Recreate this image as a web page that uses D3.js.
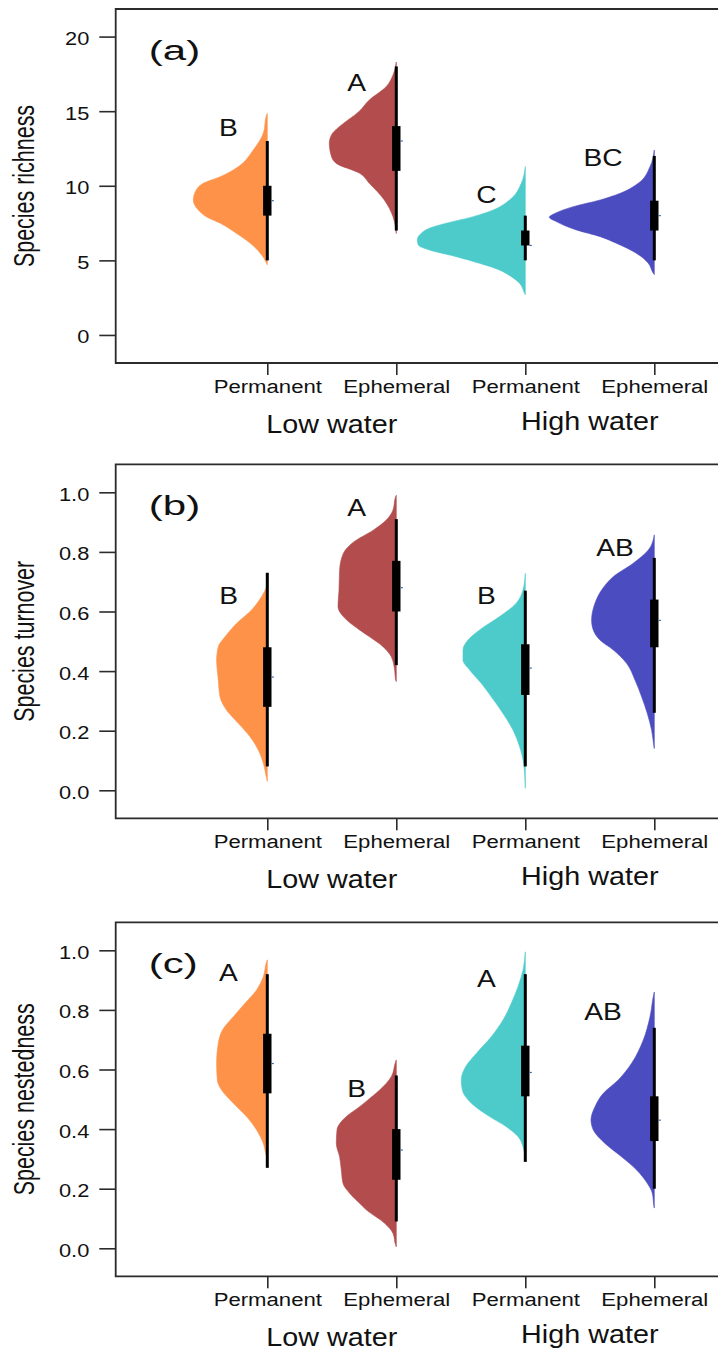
<!DOCTYPE html>
<html>
<head>
<meta charset="utf-8">
<script src="https://cdn.jsdelivr.net/npm/d3@7"></script>
<style>
  html, body { margin: 0; padding: 0; background: #fff; overflow: hidden; }
  svg { display: block; }
</style>
</head>
<body>
<script>
// ---- categories ----
const habitats = ["Permanent", "Ephemeral", "Permanent", "Ephemeral"];
const waterLevels = ["Low water", "High water"];
const waterMembers = [[0, 1], [2, 3]];

// ---- (a) species richness ----
const richnessTicks = [0, 5, 10, 15, 20];
// [lower whisker, Q1, median, Q3, upper whisker]
const richnessStats = [
  [5, 8, 9, 10, 13],
  [7, 11, 13, 14, 18],
  [5, 6, 6, 7, 8],
  [5, 7, 8, 9, 12]
];
// kernel density profiles: [value, density]
const richnessDensity = [
  [[4.7,0],[4.81,0.007],[5.48,0.07],[6.15,0.17],[6.82,0.31],[7.49,0.47],[7.93,0.61],[8.38,0.69],[9.05,0.74],[9.72,0.71],[10.17,0.64],[10.61,0.47],[11.28,0.29],[12.4,0.14],[13.52,0.04],[14.75,0.007],[14.85,0]],
  [[6.8,0],[7.93,0.033],[9.05,0.12],[10.17,0.27],[10.85,0.37],[11.5,0.6],[12.0,0.65],[12.85,0.67],[13.5,0.64],[13.96,0.57],[15.0,0.37],[15.75,0.27],[16.65,0.10],[17.4,0.035],[18.3,0]],
  [[2.7,0],[2.79,0.007],[3.46,0.057],[3.91,0.14],[4.36,0.26],[4.81,0.46],[5.25,0.69],[5.7,0.96],[6.03,1.07],[6.37,1.08],[6.82,1.04],[7.15,0.96],[7.49,0.79],[7.93,0.52],[8.38,0.32],[9.05,0.157],[10.17,0.04],[11.28,0]],
  [[4.05,0],[4.14,0.01],[4.81,0.06],[5.48,0.18],[6.15,0.38],[6.59,0.54],[7.04,0.78],[7.6,0.98],[7.89,1.05],[8.16,0.99],[8.6,0.81],[9.05,0.54],[9.5,0.34],[10.17,0.16],[11.28,0.043],[12.4,0]]
];
const richnessLetters = ["B", "A", "C", "BC"];
const richnessLetterAt = [13.94, 16.96, 9.45, 11.93];

// ---- (b) species turnover ----
const turnoverTicks = [0, 0.2, 0.4, 0.6, 0.8, 1.0];
const turnoverStats = [
  [0.08, 0.28, 0.38, 0.48, 0.73],
  [0.42, 0.60, 0.68, 0.77, 0.91],
  [0.08, 0.32, 0.41, 0.49, 0.67],
  [0.26, 0.48, 0.57, 0.64, 0.78]
];
const turnoverDensity = [
  [[0.03,0],[0.04,0.007],[0.091,0.04],[0.135,0.09],[0.18,0.173],[0.225,0.29],[0.269,0.407],[0.314,0.473],[0.37,0.49],[0.437,0.507],[0.482,0.49],[0.515,0.423],[0.56,0.307],[0.605,0.157],[0.65,0.057],[0.683,0.007],[0.69,0]],
  [[0.365,0],[0.37,0.007],[0.404,0.017],[0.448,0.05],[0.482,0.133],[0.515,0.267],[0.538,0.367],[0.583,0.53],[0.616,0.583],[0.672,0.573],[0.739,0.567],[0.795,0.53],[0.835,0.42],[0.873,0.23],[0.907,0.10],[0.941,0.033],[0.985,0.007],[0.99,0]],
  [[0.007,0],[0.091,0.017],[0.146,0.057],[0.202,0.123],[0.258,0.223],[0.314,0.34],[0.359,0.44],[0.404,0.557],[0.437,0.623],[0.471,0.623],[0.504,0.573],[0.538,0.457],[0.583,0.257],[0.628,0.09],[0.672,0.023],[0.728,0]],
  [[0.14,0],[0.146,0.003],[0.202,0.027],[0.258,0.07],[0.314,0.127],[0.37,0.193],[0.426,0.277],[0.471,0.41],[0.504,0.543],[0.538,0.61],[0.571,0.627],[0.628,0.593],[0.672,0.527],[0.717,0.41],[0.762,0.21],[0.806,0.06],[0.857,0]]
];
const turnoverLetters = ["B", "A", "B", "AB"];
const turnoverLetterAt = [0.655, 0.951, 0.655, 0.816];

// ---- (c) species nestedness ----
const nestednessTicks = [0, 0.2, 0.4, 0.6, 0.8, 1.0];
const nestednessStats = [
  [0.27, 0.52, 0.62, 0.72, 0.92],
  [0.09, 0.23, 0.33, 0.40, 0.58],
  [0.29, 0.51, 0.59, 0.68, 0.92],
  [0.20, 0.36, 0.43, 0.51, 0.74]
];
const nestednessDensity = [
  [[0.3,0],[0.307,0.007],[0.352,0.04],[0.397,0.107],[0.442,0.207],[0.487,0.34],[0.531,0.457],[0.565,0.5],[0.621,0.507],[0.688,0.49],[0.733,0.447],[0.777,0.34],[0.822,0.223],[0.867,0.107],[0.911,0.04],[0.962,0.007],[0.968,0]],
  [[0.005,0],[0.011,0.007],[0.05,0.033],[0.084,0.117],[0.129,0.30],[0.151,0.367],[0.185,0.467],[0.218,0.533],[0.263,0.55],[0.307,0.567],[0.352,0.60],[0.397,0.593],[0.442,0.50],[0.475,0.367],[0.498,0.283],[0.531,0.167],[0.576,0.05],[0.626,0.007],[0.632,0]],
  [[0.3,0],[0.307,0.003],[0.341,0.023],[0.375,0.073],[0.408,0.19],[0.442,0.357],[0.487,0.54],[0.531,0.63],[0.565,0.64],[0.609,0.597],[0.654,0.49],[0.71,0.34],[0.766,0.223],[0.822,0.14],[0.878,0.073],[0.934,0.023],[0.995,0]],
  [[0.135,0],[0.14,0.003],[0.185,0.02],[0.218,0.07],[0.263,0.177],[0.307,0.327],[0.352,0.493],[0.397,0.61],[0.431,0.633],[0.475,0.593],[0.52,0.51],[0.565,0.36],[0.621,0.227],[0.699,0.11],[0.777,0.043],[0.856,0.003],[0.86,0]]
];
const nestednessLetters = ["A", "B", "A", "AB"];
const nestednessLetterAt = [0.927, 0.538, 0.907, 0.796];

// ---- styling ----
const fillColors = ["#FF9249", "#B34C4C", "#4DCBCB", "#4C4CC1"];
const FONT = "'Liberation Sans', Arial, Helvetica, sans-serif";
const INK = "#111";
const FRAME = "#2b2b2b";

// ---- layout ----
const W = 718, H = 1351;
const frameLeft = 115.7, frameRight = 730;
const plotH = 354;

const panels = [
  { top: 9,   domain: [-1.88, 21.85], ticks: richnessTicks,   fmt: d3.format("d"),
    title: "Species richness",   tag: "(a)", stats: richnessStats,   density: richnessDensity,
    letters: richnessLetters,   letterAt: richnessLetterAt,   letterDx: [-39, -39.7, -39, -51.3] },
  { top: 464.3, domain: [-0.094, 1.094], ticks: turnoverTicks,  fmt: d3.format(".1f"),
    title: "Species turnover",   tag: "(b)", stats: turnoverStats,   density: turnoverDensity,
    letters: turnoverLetters,   letterAt: turnoverLetterAt,   letterDx: [-38.6, -39.7, -39, -39.3] },
  { top: 922.3, domain: [-0.094, 1.094], ticks: nestednessTicks, fmt: d3.format(".1f"),
    title: "Species nestedness", tag: "(c)", stats: nestednessStats, density: nestednessDensity,
    letters: nestednessLetters, letterAt: nestednessLetterAt, letterDx: [-39, -39.7, -39, -51.3] }
];

const svg = d3.select("body").append("svg")
  .attr("width", W).attr("height", H)
  .attr("viewBox", `0 0 ${W} ${H}`);

const x = d3.scalePoint().domain(d3.range(habitats.length)).range([267.3, 654.3]);
const halfWidth = d3.scaleLinear().domain([0, 1]).range([0, 100]);

// text with a horizontal stretch, like the device the figure was exported from
function stretchedText(parent, str, px, py, opts) {
  return parent.append("text")
    .attr("transform", `translate(${px},${py})` + (opts.rotate ? ` rotate(${opts.rotate})` : "") + ` scale(${opts.sx},1)`)
    .attr("text-anchor", opts.anchor || "middle")
    .attr("font-family", FONT)
    .attr("font-size", opts.size)
    .attr("fill", INK)
    .text(str);
}

panels.forEach((p) => {
  const g = svg.append("g");
  const bottom = p.top + plotH;
  const y = d3.scaleLinear().domain(p.domain).range([bottom, p.top]);

  // half violins, flat side on the category position
  p.density.forEach((prof, i) => {
    const cx = x(i);
    const pts = prof.slice().sort((a, b) => b[0] - a[0]);
    const area = d3.area()
      .curve(d3.curveMonotoneY)
      .y(d => y(d[0]))
      .x0(() => cx)
      .x1(d => cx - halfWidth(d[1]));
    g.append("path")
      .attr("d", area(pts))
      .attr("fill", fillColors[i])
      .attr("stroke", fillColors[i])
      .attr("stroke-width", 0.6)
      .attr("stroke-linejoin", "round");
  });

  // box plots
  p.stats.forEach((s, i) => {
    const cx = x(i);
    g.append("line")
      .attr("x1", cx).attr("x2", cx)
      .attr("y1", y(s[0])).attr("y2", y(s[4]))
      .attr("stroke", "#000").attr("stroke-width", 3);
    g.append("rect")
      .attr("x", cx - 4.2).attr("width", 8.4)
      .attr("y", y(s[3])).attr("height", y(s[1]) - y(s[3]))
      .attr("fill", "#000");
    g.append("line")
      .attr("x1", cx + 4.2).attr("x2", cx + 6.5)
      .attr("y1", y(s[2])).attr("y2", y(s[2]))
      .attr("stroke", "#3d63a8").attr("stroke-width", 1.2);
  });

  // significance letters
  p.letters.forEach((lab, i) => {
    stretchedText(g, lab, x(i) + p.letterDx[i], y(p.letterAt[i]) + 8.8, { size: 24.5, sx: 1.15 });
  });

  // frame: top, left and bottom sides (right side lies past the page edge)
  g.append("path")
    .attr("d", `M${frameRight},${p.top}H${frameLeft}V${bottom}H${frameRight}`)
    .attr("fill", "none").attr("stroke", FRAME).attr("stroke-width", 1.8);

  // y axis
  const ga = g.append("g")
    .attr("transform", `translate(${frameLeft},0)`)
    .call(d3.axisLeft(y).tickValues(p.ticks).tickFormat(p.fmt).tickSize(16.4).tickPadding(10));
  ga.select(".domain").remove();
  ga.selectAll(".tick line").attr("stroke", FRAME).attr("stroke-width", 1.6);
  ga.selectAll(".tick text")
    .attr("x", 0).attr("dy", null)
    .attr("transform", "translate(-26.4,8) scale(1.18,1)")
    .attr("font-family", FONT).attr("font-size", 18.5).attr("fill", INK);

  // x axis
  const gx = g.append("g")
    .attr("transform", `translate(0,${bottom})`)
    .call(d3.axisBottom(x).tickSize(12).tickPadding(5).tickFormat(i => habitats[i]));
  gx.select(".domain").remove();
  gx.selectAll(".tick line").attr("stroke", FRAME).attr("stroke-width", 1.6);
  gx.selectAll(".tick text")
    .attr("y", 0).attr("dy", null)
    .attr("transform", "translate(0,30) scale(1.23,1)")
    .attr("font-family", FONT).attr("font-size", 18).attr("fill", INK);

  // water level group labels
  const groupDrop = [69.5, 67];
  waterLevels.forEach((lab, k) => {
    const cx = d3.mean(waterMembers[k], i => x(i));
    stretchedText(g, lab, cx, bottom + groupDrop[k], { size: 25, sx: 1.15 });
  });

  // y axis title
  stretchedText(g, p.title, 33.5, p.top + plotH / 2, { size: 29, sx: 0.74, rotate: -90 });

  // panel tag
  stretchedText(g, p.tag, 148.8, p.top + 51, { size: 28, sx: 1.5, anchor: "start" });
});
</script>
</body>
</html>
